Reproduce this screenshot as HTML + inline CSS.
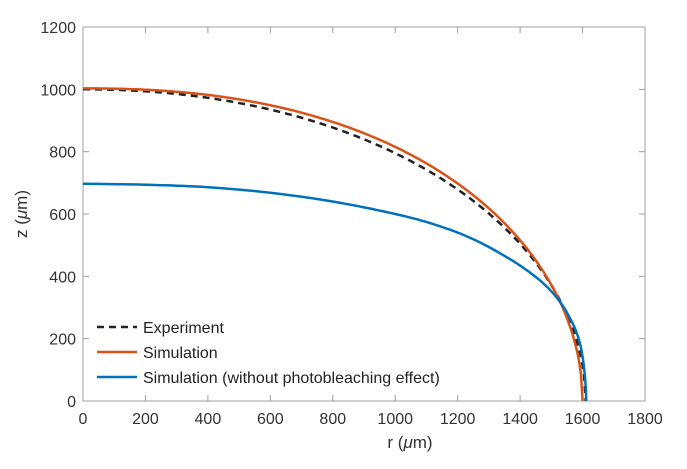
<!DOCTYPE html>
<html><head><style>body{margin:0;background:#fff}svg{display:block;font-family:"Liberation Sans",sans-serif}</style></head>
<body>
<svg id="s" width="687" height="469" viewBox="0 0 687 469">
<rect x="83" y="27" width="562" height="374" fill="#fff" stroke="#a0a0a0" stroke-width="1"/>
<g id="ticks" stroke="#a0a0a0" stroke-width="1"></g>
<g id="labels" font-size="16" fill="#333"></g>
<path id="pe" fill="none" stroke="#222" stroke-width="2.5" stroke-dasharray="7,5"/>
<path id="po" fill="none" stroke="#d95319" stroke-width="2.5"/>
<path id="pb" fill="none" stroke="#0072bd" stroke-width="2.5"/>
<text x="410" y="448" font-size="17" fill="#333" text-anchor="middle">r (<tspan font-style="italic">μ</tspan>m)</text>
<text transform="translate(27,214) rotate(-90)" font-size="17" fill="#333" text-anchor="middle">z (<tspan font-style="italic">μ</tspan>m)</text>
<line x1="97" y1="327" x2="137" y2="327" stroke="#222" stroke-width="2.5" stroke-dasharray="7,5"/>
<text x="143" y="333" font-size="16" fill="#222">Experiment</text>
<line x1="97" y1="352" x2="137" y2="352" stroke="#d95319" stroke-width="2.5"/>
<text x="143" y="358" font-size="16" fill="#222">Simulation</text>
<line x1="97" y1="377" x2="137" y2="377" stroke="#0072bd" stroke-width="2.5"/>
<text x="143" y="383" font-size="16" fill="#222">Simulation (without photobleaching effect)</text>
</svg>
<script>
const X=r=>83+r*562/1800, Y=z=>401-z*374/1200;
let t='',l='';
for(let i=0;i<=9;i++){let x=X(i*200);t+=`<line x1="${x}" y1="401" x2="${x}" y2="395"/><line x1="${x}" y1="27" x2="${x}" y2="33"/>`;l+=`<text x="${x}" y="424" text-anchor="middle">${i*200}</text>`;}
for(let i=0;i<=6;i++){let y=Y(i*200);t+=`<line x1="83" y1="${y}" x2="89" y2="${y}"/><line x1="645" y1="${y}" x2="639" y2="${y}"/>`;l+=`<text x="76" y="${y+6}" text-anchor="end">${i*200}</text>`;}
document.getElementById('ticks').innerHTML=t;document.getElementById('labels').innerHTML=l;
function c(id,z0,R,p){let d='';for(let i=0;i<=300;i++){let r=R*i/300;let v=1-Math.pow(r/R,p);let z=z0*Math.sqrt(Math.max(v,0));d+=(i?'L':'M')+X(r).toFixed(1)+','+Y(z).toFixed(1);}document.getElementById(id).setAttribute('d',d);}
c('pe',1000,1610,2.1);c('po',1003,1600,2.3);
const P=[[0,697],[200,694],[400,686],[600,668],[800,640],[1000,600],[1130,565],[1250,519],[1368,455],[1450,398],[1500,352],[1535,308],[1560,265],[1580,222],[1595,170],[1605,105],[1610,45],[1612,0]];
function cr(pts){let d='M'+X(pts[0][0]).toFixed(1)+','+Y(pts[0][1]).toFixed(1);for(let i=0;i<pts.length-1;i++){let p0=pts[Math.max(i-1,0)],p1=pts[i],p2=pts[i+1],p3=pts[Math.min(i+2,pts.length-1)];for(let k=1;k<=10;k++){let s=k/10,s2=s*s,s3=s2*s;let f=(a,b,c2,e)=>0.5*(2*b+(-a+c2)*s+(2*a-5*b+4*c2-e)*s2+(-a+3*b-3*c2+e)*s3);d+='L'+X(f(p0[0],p1[0],p2[0],p3[0])).toFixed(1)+','+Y(f(p0[1],p1[1],p2[1],p3[1])).toFixed(1);}}return d;}
document.getElementById('pb').setAttribute('d',cr(P));
</script>
</body></html>
